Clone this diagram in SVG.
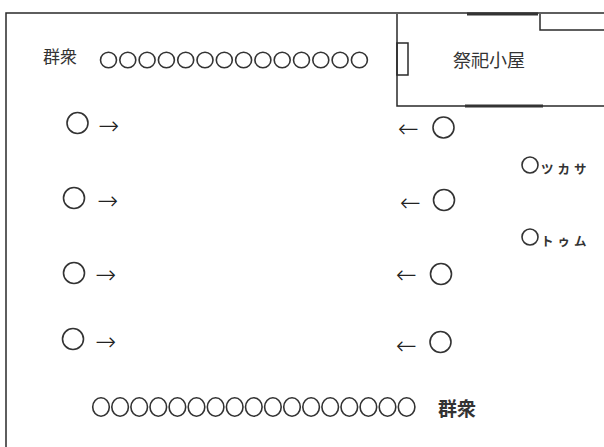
<svg xmlns="http://www.w3.org/2000/svg" width="604" height="447" viewBox="0 0 604 447">
<style>
.ln{fill:none;stroke:#2a2a2a;stroke-width:1.5}
.thk{fill:none;stroke:#333;stroke-width:3}
.c{fill:none;stroke:#333;stroke-width:1.6}
.t{font-family:"Noto Sans CJK JP","Noto Sans",sans-serif;fill:#333}
.ar{font-family:"DejaVu Sans",sans-serif;font-weight:200;fill:#222;font-size:25px}
</style>
<rect width="604" height="447" fill="#fff"/>
<g id="frame">
<path class="ln" d="M6,447 V13 H604"/>
</g>
<g id="shrine">
<path class="ln" d="M397,14 V106 H604"/>
<rect class="ln" x="397" y="43" width="11" height="32"/>
<path class="ln" d="M540,14 V30 H604"/>
<path class="thk" d="M467,14 H538"/>
<path class="thk" d="M465,106 H543"/>
<text class="t" x="453" y="67" font-size="18">祭祀小屋</text>
</g>
<g id="crowd-top">
<text class="t" x="43" y="63" font-size="17">群衆</text>
<g class="c">
<ellipse cx="108.5" cy="60" rx="8" ry="7.8"/>
<ellipse cx="127.8" cy="60" rx="8" ry="7.8"/>
<ellipse cx="147.1" cy="60" rx="8" ry="7.8"/>
<ellipse cx="166.4" cy="60" rx="8" ry="7.8"/>
<ellipse cx="185.7" cy="60" rx="8" ry="7.8"/>
<ellipse cx="205.0" cy="60" rx="8" ry="7.8"/>
<ellipse cx="224.3" cy="60" rx="8" ry="7.8"/>
<ellipse cx="243.6" cy="60" rx="8" ry="7.8"/>
<ellipse cx="262.9" cy="60" rx="8" ry="7.8"/>
<ellipse cx="282.2" cy="60" rx="8" ry="7.8"/>
<ellipse cx="301.5" cy="60" rx="8" ry="7.8"/>
<ellipse cx="320.8" cy="60" rx="8" ry="7.8"/>
<ellipse cx="340.1" cy="60" rx="8" ry="7.8"/>
<ellipse cx="359.4" cy="60" rx="8" ry="7.8"/>
</g>
</g>
<g id="crowd-bottom">
<g class="c">
<ellipse cx="101.0" cy="407" rx="8.3" ry="9.2"/>
<ellipse cx="120.1" cy="407" rx="8.3" ry="9.2"/>
<ellipse cx="139.2" cy="407" rx="8.3" ry="9.2"/>
<ellipse cx="158.3" cy="407" rx="8.3" ry="9.2"/>
<ellipse cx="177.4" cy="407" rx="8.3" ry="9.2"/>
<ellipse cx="196.5" cy="407" rx="8.3" ry="9.2"/>
<ellipse cx="215.6" cy="407" rx="8.3" ry="9.2"/>
<ellipse cx="234.7" cy="407" rx="8.3" ry="9.2"/>
<ellipse cx="253.8" cy="407" rx="8.3" ry="9.2"/>
<ellipse cx="272.9" cy="407" rx="8.3" ry="9.2"/>
<ellipse cx="292.0" cy="407" rx="8.3" ry="9.2"/>
<ellipse cx="311.1" cy="407" rx="8.3" ry="9.2"/>
<ellipse cx="330.2" cy="407" rx="8.3" ry="9.2"/>
<ellipse cx="349.3" cy="407" rx="8.3" ry="9.2"/>
<ellipse cx="368.4" cy="407" rx="8.3" ry="9.2"/>
<ellipse cx="387.5" cy="407" rx="8.3" ry="9.2"/>
<ellipse cx="406.6" cy="407" rx="8.3" ry="9.2"/>
</g>
<text class="t" x="438" y="416" font-size="19" font-weight="bold">群衆</text>
</g>
<g id="left-1"><circle class="c" cx="77.5" cy="123" r="10.5"/><text class="ar" x="98" y="133.5">→</text></g>
<g id="left-2"><circle class="c" cx="74" cy="198" r="10.5"/><text class="ar" x="97" y="208.5">→</text></g>
<g id="left-3"><circle class="c" cx="74" cy="273" r="10.5"/><text class="ar" x="95" y="282.5">→</text></g>
<g id="left-4"><circle class="c" cx="73" cy="339" r="10.5"/><text class="ar" x="95" y="349.5">→</text></g>
<g id="right-1"><circle class="c" cx="443.5" cy="127.5" r="10.5"/><text class="ar" x="398" y="136.5">←</text></g>
<g id="right-2"><circle class="c" cx="444" cy="200" r="10.5"/><text class="ar" x="400" y="210.5">←</text></g>
<g id="right-3"><circle class="c" cx="441" cy="274" r="10.5"/><text class="ar" x="396" y="282.5">←</text></g>
<g id="right-4"><circle class="c" cx="440.5" cy="342" r="10.5"/><text class="ar" x="396" y="353.5">←</text></g>
<g id="tsukasa"><circle class="c" cx="530" cy="165" r="8"/><text class="t" x="541" y="174" font-size="12.5" font-weight="bold" letter-spacing="4">ツカサ</text></g>
<g id="toumu"><circle class="c" cx="530" cy="237" r="8"/><text class="t" x="541" y="246" font-size="12.5" font-weight="bold" letter-spacing="4">トゥム</text></g>
</svg>
